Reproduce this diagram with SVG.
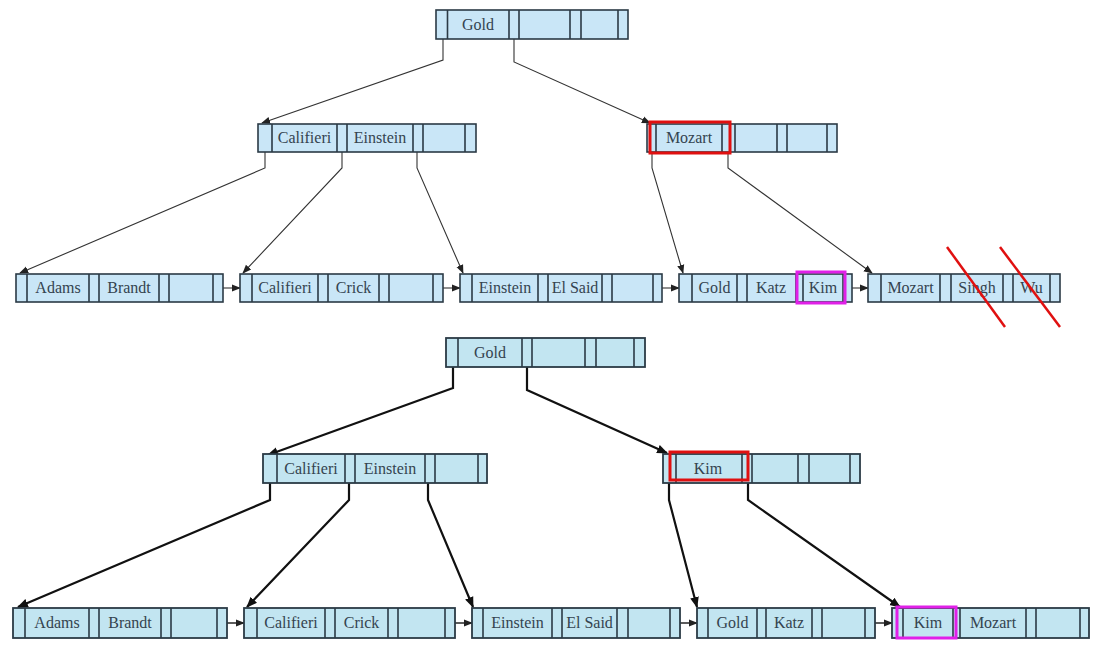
<svg xmlns="http://www.w3.org/2000/svg" width="1095" height="645" viewBox="0 0 1095 645">
<defs>
<marker id="ah" viewBox="0 0 10 10" refX="9" refY="5" markerWidth="9" markerHeight="9" markerUnits="userSpaceOnUse" orient="auto"><path d="M0,1 L10,5 L0,9 Z" fill="#222"/></marker>
<marker id="ahb" viewBox="0 0 10 10" refX="9" refY="5" markerWidth="11" markerHeight="11" markerUnits="userSpaceOnUse" orient="auto"><path d="M0,1 L10,5 L0,9 Z" fill="#111"/></marker>
<style>
.box{fill:#c9e6f7;stroke:#2b3a45;stroke-width:1.6}
.box2{fill:#c2e5f1;stroke:#2b3a45;stroke-width:1.8}
.dv{stroke:#2b3a45;stroke-width:1.6}
.t{font-family:"Liberation Serif",serif;font-size:16px;fill:#34434f;text-anchor:middle}
.e{fill:none;stroke:#333;stroke-width:1.1;marker-end:url(#ah)}
.eb{fill:none;stroke:#111;stroke-width:2.2;marker-end:url(#ahb)}
.red{fill:none;stroke:#e01010;stroke-width:3}
.mag{fill:none;stroke:#e020e8;stroke-width:3}
.slash{stroke:#e01010;stroke-width:2.5}
</style>
</defs>

<g id="connectors">
<path class="e" d="M443,31 V60 L262,123"/>
<path class="e" d="M514,31 V62 L650,123"/>
<path class="e" d="M265,138 V168 L20,273"/>
<path class="e" d="M342,138 V168 L243,273"/>
<path class="e" d="M417,138 V168 L463,273"/>
<path class="e" d="M652,138 V168 L683,273"/>
<path class="e" d="M728,138 V168 L872,273"/>
<path class="e" d="M218,288 H240"/>
<path class="e" d="M438,288 H460"/>
<path class="e" d="M657,288 H679"/>
<path class="e" d="M848,288 H868"/>
<path class="eb" d="M453,352 V388 L268,455"/>
<path class="eb" d="M527,352 V390 L667,453"/>
<path class="eb" d="M270,468 V500 L18,607"/>
<path class="eb" d="M349,468 V500 L247,607"/>
<path class="eb" d="M428,468 V500 L473,607"/>
<path class="eb" d="M669,468 V500 L697,607"/>
<path class="eb" d="M748,468 V500 L900,607"/>
<path class="e" d="M222,623 H244" style="stroke-width:1.6"/>
<path class="e" d="M450,623 H472" style="stroke-width:1.6"/>
<path class="e" d="M675,623 H697" style="stroke-width:1.6"/>
<path class="e" d="M870,623 H892" style="stroke-width:1.6"/>
</g>

<!-- Top tree -->
<g id="top-root">
<rect class="box" x="436" y="10" width="192" height="29"/>
<path class="dv" d="M447.5,10V39M509,10V39M519,10V39M570,10V39M581,10V39M618,10V39"/>
<text class="t" x="478" y="30">Gold</text>
</g>
<g id="top-inner-left">
<rect class="box" x="258" y="124" width="218" height="28"/>
<path class="dv" d="M272,124V152M337,124V152M347,124V152M413,124V152M423,124V152M465,124V152"/>
<text class="t" x="304.5" y="143">Califieri</text>
<text class="t" x="380" y="143">Einstein</text>
</g>
<g id="top-inner-right">
<rect class="box" x="647" y="124" width="190" height="28"/>
<path class="dv" d="M656,124V152M722,124V152M735,124V152M777,124V152M787,124V152M827,124V152"/>
<text class="t" x="689" y="143">Mozart</text>
<rect class="red" x="650" y="122" width="80" height="31"/>
</g>
<g id="top-leaf-adams">
<rect class="box" x="16" y="274" width="207" height="28"/>
<path class="dv" d="M27,274V302M89,274V302M99,274V302M159,274V302M169,274V302M213,274V302"/>
<text class="t" x="58" y="293">Adams</text>
<text class="t" x="129" y="293">Brandt</text>
</g>
<g id="top-leaf-califieri">
<rect class="box" x="240" y="274" width="203" height="28"/>
<path class="dv" d="M252,274V302M318,274V302M328,274V302M379,274V302M389,274V302M433,274V302"/>
<text class="t" x="285" y="293">Califieri</text>
<text class="t" x="353.5" y="293">Crick</text>
</g>
<g id="top-leaf-einstein">
<rect class="box" x="460" y="274" width="202" height="28"/>
<path class="dv" d="M472,274V302M538,274V302M548,274V302M602,274V302M612,274V302M653,274V302"/>
<text class="t" x="505" y="293">Einstein</text>
<text class="t" x="575" y="293">El Said</text>
</g>
<g id="top-leaf-gold">
<rect class="box" x="679" y="274" width="173" height="28"/>
<path class="dv" d="M692,274V302M737,274V302M747,274V302M796,274V302M803,274V302M843,274V302"/>
<text class="t" x="714.5" y="293">Gold</text>
<text class="t" x="771" y="293">Katz</text>
<text class="t" x="823" y="293">Kim</text>
<rect class="mag" x="797" y="272" width="48" height="31"/>
</g>
<g id="top-leaf-mozart">
<rect class="box" x="868" y="274" width="192" height="28"/>
<path class="dv" d="M881,274V302M940,274V302M951,274V302M1003,274V302M1013,274V302M1050,274V302"/>
<text class="t" x="910.5" y="293">Mozart</text>
<text class="t" x="977" y="293">Singh</text>
<text class="t" x="1031.5" y="293">Wu</text>
<line class="slash" x1="947" y1="247" x2="1005" y2="327"/>
<line class="slash" x1="1000" y1="247" x2="1060" y2="327"/>
</g>

<!-- Bottom tree -->
<g id="bottom-root">
<rect class="box2" x="446" y="338" width="199" height="29"/>
<path class="dv" d="M458,338V367M522,338V367M532,338V367M585,338V367M596,338V367M634,338V367"/>
<text class="t" x="490" y="358">Gold</text>
</g>
<g id="bottom-inner-left">
<rect class="box2" x="263" y="454" width="224" height="29"/>
<path class="dv" d="M277,454V483M345,454V483M355,454V483M425,454V483M435,454V483M478,454V483"/>
<text class="t" x="311" y="474">Califieri</text>
<text class="t" x="390" y="474">Einstein</text>
</g>
<g id="bottom-inner-right">
<rect class="box2" x="663" y="454" width="197" height="29"/>
<path class="dv" d="M676,454V483M742,454V483M752,454V483M798,454V483M809,454V483M850,454V483"/>
<text class="t" x="708" y="474">Kim</text>
<rect class="red" x="670" y="452" width="78" height="28"/>
</g>
<g id="bottom-leaf-adams">
<rect class="box2" x="13" y="608" width="214" height="30"/>
<path class="dv" d="M25,608V638M89,608V638M99,608V638M161,608V638M171,608V638M217,608V638"/>
<text class="t" x="57" y="628">Adams</text>
<text class="t" x="130" y="628">Brandt</text>
</g>
<g id="bottom-leaf-califieri">
<rect class="box2" x="244" y="608" width="211" height="30"/>
<path class="dv" d="M257,608V638M325,608V638M335,608V638M388,608V638M398,608V638M445,608V638"/>
<text class="t" x="291" y="628">Califieri</text>
<text class="t" x="361.5" y="628">Crick</text>
</g>
<g id="bottom-leaf-einstein">
<rect class="box2" x="472" y="608" width="208" height="30"/>
<path class="dv" d="M483,608V638M552,608V638M562,608V638M617,608V638M628,608V638M670,608V638"/>
<text class="t" x="517.5" y="628">Einstein</text>
<text class="t" x="589.5" y="628">El Said</text>
</g>
<g id="bottom-leaf-gold">
<rect class="box2" x="697" y="608" width="178" height="30"/>
<path class="dv" d="M708,608V638M757,608V638M766,608V638M812,608V638M822,608V638M865,608V638"/>
<text class="t" x="732.5" y="628">Gold</text>
<text class="t" x="789" y="628">Katz</text>
</g>
<g id="bottom-leaf-kim">
<rect class="box2" x="892" y="608" width="197" height="30"/>
<path class="dv" d="M903,608V638M953,608V638M960,608V638M1026,608V638M1036,608V638M1080,608V638"/>
<text class="t" x="928" y="628">Kim</text>
<text class="t" x="993" y="628">Mozart</text>
<rect class="mag" x="897" y="607" width="59" height="31"/>
</g>
</svg>
